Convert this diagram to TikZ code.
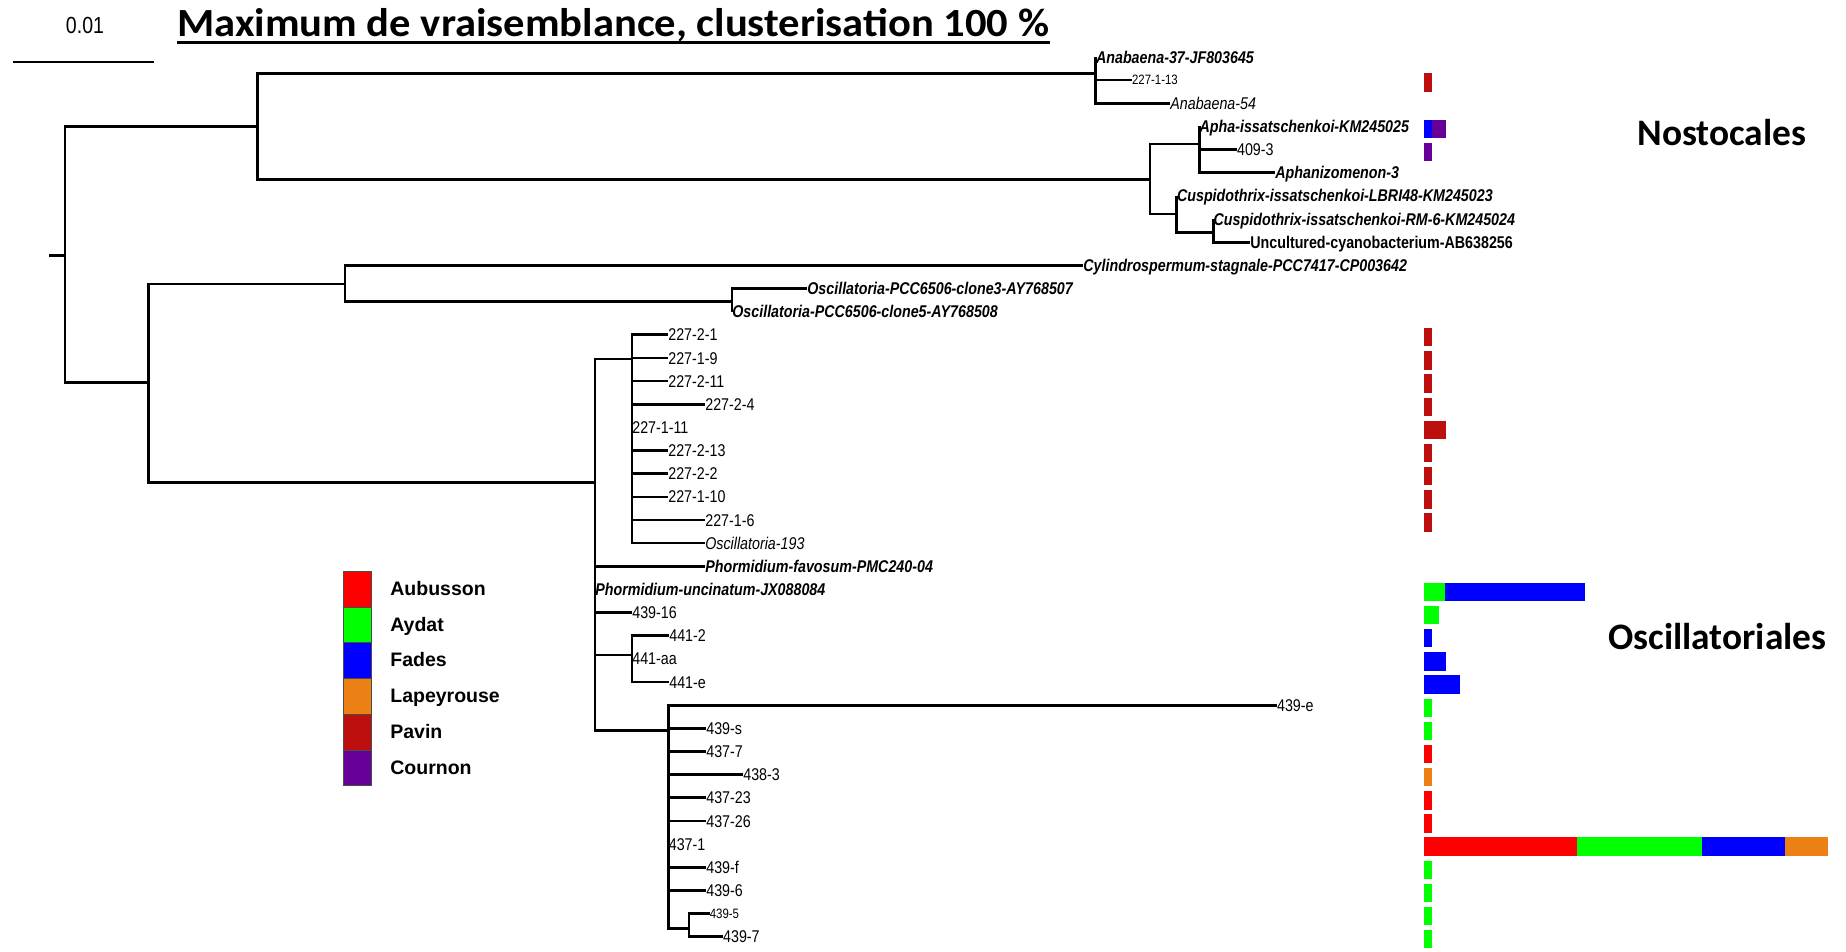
\documentclass[tikz,border=0pt]{standalone}
\usepackage{fontspec}
\usepackage{tikz}
\setmainfont{Liberation Sans}
\newfontfamily\narrowfont[FakeStretch=0.84]{Liberation Sans}
\newfontfamily\carlitofont{Carlito}
\newfontfamily\titlefont[FakeStretch=1.065]{Carlito}
\pgfdeclarelayer{edgelayer}
\pgfdeclarelayer{nodelayer}
\pgfsetlayers{edgelayer,nodelayer,main}
\tikzstyle{none}=[inner sep=0pt]
\tikzstyle{leaf}=[inner sep=0pt, anchor=west, text height=6.9pt, text depth=0pt, font=\narrowfont\fontsize{9.67}{11}\selectfont]
\tikzstyle{small leaf}=[leaf, text height=5.5pt, font=\narrowfont\fontsize{7.74}{9}\selectfont]
\tikzstyle{italic leaf}=[leaf, font=\narrowfont\fontsize{9.67}{11}\selectfont\itshape]
\tikzstyle{ref leaf}=[leaf, font=\narrowfont\fontsize{9.67}{11}\selectfont\bfseries\itshape]
\tikzstyle{bold leaf}=[leaf, font=\narrowfont\fontsize{9.67}{11}\selectfont\bfseries]
\tikzstyle{branch}=[line width=1.5pt]
\tikzstyle{legend}=[inner sep=0pt, anchor=west, text height=7.9pt, text depth=0pt, font=\bfseries\fontsize{11.1}{13}\selectfont]
\tikzstyle{group}=[inner sep=0pt, anchor=base west, font=\carlitofont\bfseries\fontsize{21.28}{24}\selectfont]
\definecolor{aubusson}{RGB}{255,0,0}
\definecolor{aydat}{RGB}{0,255,0}
\definecolor{fades}{RGB}{0,0,255}
\definecolor{lapeyrouse}{RGB}{235,128,20}
\definecolor{pavin}{RGB}{190,15,15}
\definecolor{cournon}{RGB}{102,0,153}

\begin{document}
\begin{tikzpicture}[x=0.02cm, y=-0.02cm]
	\useasboundingbox (0, 0) rectangle (1846, 952);
	\begin{pgfonlayer}{nodelayer}
		\node [style=none] (0) at (49, 255.7) {};
		\node [style=none] (1) at (65, 255.7) {};
		\node [style=none] (2) at (257.5, 126.7) {};
		\node [style=none] (3) at (1095.7, 73.3) {};
		\node [style=none] (4) at (1150, 179.3) {};
		\node [style=none] (5) at (1199.3, 144) {};
		\node [style=none] (6) at (1176.7, 214) {};
		\node [style=none] (7) at (1213.3, 232.7) {};
		\node [style=none] (8) at (148.8, 382.6) {};
		\node [style=none] (9) at (345, 284) {};
		\node [style=none] (10) at (732, 301.7) {};
		\node [style=none] (11) at (595, 482.7) {};
		\node [style=none] (12) at (632, 359) {};
		\node [style=none] (13) at (632, 655) {};
		\node [style=none] (14) at (668.5, 730.7) {};
		\node [style=none] (15) at (689, 928.3) {};
		\node [style=ref leaf] (16) at (1095.7, 57) {Anabaena-37-JF803645};
		\node [style=small leaf] (17) at (1131.7, 80.15) {227-1-13};
		\node [style=italic leaf] (18) at (1170, 103.3) {Anabaena-54};
		\node [style=ref leaf] (19) at (1199.3, 126.45) {Apha-issatschenkoi-KM245025};
		\node [style=leaf] (20) at (1236.7, 149.6) {409-3};
		\node [style=ref leaf] (21) at (1275, 172.75) {Aphanizomenon-3};
		\node [style=ref leaf] (22) at (1176.7, 195.9) {Cuspidothrix-issatschenkoi-LBRI48-KM245023};
		\node [style=ref leaf] (23) at (1213.3, 219.05) {Cuspidothrix-issatschenkoi-RM-6-KM245024};
		\node [style=bold leaf] (24) at (1250, 242.2) {Uncultured-cyanobacterium-AB638256};
		\node [style=ref leaf] (25) at (1083, 265.35) {Cylindrospermum-stagnale-PCC7417-CP003642};
		\node [style=ref leaf] (26) at (807, 288.5) {Oscillatoria-PCC6506-clone3-AY768507};
		\node [style=ref leaf] (27) at (732, 311.65) {Oscillatoria-PCC6506-clone5-AY768508};
		\node [style=leaf] (28) at (668, 334.8) {227-2-1};
		\node [style=leaf] (29) at (668, 357.95) {227-1-9};
		\node [style=leaf] (30) at (668, 381.1) {227-2-11};
		\node [style=leaf] (31) at (705, 404.25) {227-2-4};
		\node [style=leaf] (32) at (632, 427.4) {227-1-11};
		\node [style=leaf] (33) at (668, 450.55) {227-2-13};
		\node [style=leaf] (34) at (668, 473.7) {227-2-2};
		\node [style=leaf] (35) at (668, 496.85) {227-1-10};
		\node [style=leaf] (36) at (705, 520) {227-1-6};
		\node [style=italic leaf] (37) at (705, 543.15) {Oscillatoria-193};
		\node [style=ref leaf] (38) at (705, 566.3) {Phormidium-favosum-PMC240-04};
		\node [style=ref leaf] (39) at (595, 589.45) {Phormidium-uncinatum-JX088084};
		\node [style=leaf] (40) at (632, 612.6) {439-16};
		\node [style=leaf] (41) at (669, 635.75) {441-2};
		\node [style=leaf] (42) at (632, 658.9) {441-aa};
		\node [style=leaf] (43) at (669, 682.05) {441-e};
		\node [style=leaf] (44) at (1276.7, 705.2) {439-e};
		\node [style=leaf] (45) at (706, 728.35) {439-s};
		\node [style=leaf] (46) at (706, 751.5) {437-7};
		\node [style=leaf] (47) at (743, 774.65) {438-3};
		\node [style=leaf] (48) at (706, 797.8) {437-23};
		\node [style=leaf] (49) at (706, 820.95) {437-26};
		\node [style=leaf] (50) at (668.5, 844.1) {437-1};
		\node [style=leaf] (51) at (706, 867.25) {439-f};
		\node [style=leaf] (52) at (706, 890.4) {439-6};
		\node [style=small leaf] (53) at (709.5, 913.55) {439-5};
		\node [style=leaf] (54) at (722.8, 936.7) {439-7};
		\node [style=none, anchor=base west, font=\titlefont\bfseries\fontsize{22.76}{26}\selectfont] (55) at (177, 37) {Maximum de vraisemblance, clusterisation 100 \%};
		\node [style=none, anchor=base, font=\narrowfont\fontsize{13.26}{15}\selectfont] (56) at (85, 33.3) {0.01};
		\node [style=none] (57) at (12.7, 62) {};
		\node [style=none] (58) at (154, 62) {};
		\node [style=legend] (59) at (390, 589) {Aubusson};
		\node [style=legend] (60) at (390, 624.5) {Aydat};
		\node [style=legend] (61) at (390, 660) {Fades};
		\node [style=legend] (62) at (390, 696) {Lapeyrouse};
		\node [style=legend] (63) at (390, 732) {Pavin};
		\node [style=legend] (64) at (390, 767.5) {Cournon};
		\node [style=group] (65) at (1637, 146) {Nostocales};
		\node [style=group] (66) at (1608, 649) {Oscillatoriales};
	\end{pgfonlayer}
	\begin{pgfonlayer}{edgelayer}
		\draw [style=branch] (0.center) to (1.center);
		\draw [style=branch] (1.center) |- (2.center);
		\draw [style=branch] (1.center) |- (8.center);
		\draw [style=branch] (2.center) |- (3.center);
		\draw [style=branch] (2.center) |- (4.center);
		\draw [style=branch] (3.center) |- (16.west);
		\draw [style=branch] (3.center) |- (17.west);
		\draw [style=branch] (3.center) |- (18.west);
		\draw [style=branch] (4.center) |- (5.center);
		\draw [style=branch] (4.center) |- (6.center);
		\draw [style=branch] (5.center) |- (19.west);
		\draw [style=branch] (5.center) |- (20.west);
		\draw [style=branch] (5.center) |- (21.west);
		\draw [style=branch] (6.center) |- (22.west);
		\draw [style=branch] (6.center) |- (7.center);
		\draw [style=branch] (7.center) |- (23.west);
		\draw [style=branch] (7.center) |- (24.west);
		\draw [style=branch] (8.center) |- (9.center);
		\draw [style=branch] (8.center) |- (11.center);
		\draw [style=branch] (9.center) |- (25.west);
		\draw [style=branch] (9.center) |- (10.center);
		\draw [style=branch] (10.center) |- (26.west);
		\draw [style=branch] (10.center) |- (27.west);
		\draw [style=branch] (11.center) |- (12.center);
		\draw [style=branch] (11.center) |- (38.west);
		\draw [style=branch] (11.center) |- (39.west);
		\draw [style=branch] (11.center) |- (40.west);
		\draw [style=branch] (11.center) |- (13.center);
		\draw [style=branch] (11.center) |- (14.center);
		\draw [style=branch] (12.center) |- (28.west);
		\draw [style=branch] (12.center) |- (29.west);
		\draw [style=branch] (12.center) |- (30.west);
		\draw [style=branch] (12.center) |- (31.west);
		\draw [style=branch] (12.center) |- (32.west);
		\draw [style=branch] (12.center) |- (33.west);
		\draw [style=branch] (12.center) |- (34.west);
		\draw [style=branch] (12.center) |- (35.west);
		\draw [style=branch] (12.center) |- (36.west);
		\draw [style=branch] (12.center) |- (37.west);
		\draw [style=branch] (13.center) |- (41.west);
		\draw [style=branch] (13.center) |- (42.west);
		\draw [style=branch] (13.center) |- (43.west);
		\draw [style=branch] (14.center) |- (44.west);
		\draw [style=branch] (14.center) |- (45.west);
		\draw [style=branch] (14.center) |- (46.west);
		\draw [style=branch] (14.center) |- (47.west);
		\draw [style=branch] (14.center) |- (48.west);
		\draw [style=branch] (14.center) |- (49.west);
		\draw [style=branch] (14.center) |- (50.west);
		\draw [style=branch] (14.center) |- (51.west);
		\draw [style=branch] (14.center) |- (52.west);
		\draw [style=branch] (14.center) |- (15.center);
		\draw [style=branch] (15.center) |- (53.west);
		\draw [style=branch] (15.center) |- (54.west);
		\draw [line width=1.1pt] (57.center) to (58.center);
		\draw [line width=1.5pt] ([yshift=-0.11cm]55.base west) to ([yshift=-0.11cm]55.base east);
	\end{pgfonlayer}
	% lake bars
	\fill [pavin] (1424, 73.45) rectangle ++(8, 18.4);
	\fill [fades] (1424, 119.75) rectangle ++(7.5, 18.4);
	\fill [cournon] (1431.5, 119.75) rectangle ++(14.5, 18.4);
	\fill [cournon] (1424, 142.9) rectangle ++(8, 18.4);
	\fill [pavin] (1424, 328.1) rectangle ++(8, 18.4);
	\fill [pavin] (1424, 351.25) rectangle ++(8, 18.4);
	\fill [pavin] (1424, 374.4) rectangle ++(8, 18.4);
	\fill [pavin] (1424, 397.55) rectangle ++(8, 18.4);
	\fill [pavin] (1424, 420.7) rectangle ++(22, 18.4);
	\fill [pavin] (1424, 443.85) rectangle ++(8, 18.4);
	\fill [pavin] (1424, 467.0) rectangle ++(8, 18.4);
	\fill [pavin] (1424, 490.15) rectangle ++(8, 18.4);
	\fill [pavin] (1424, 513.3) rectangle ++(8, 18.4);
	\fill [aydat] (1424, 582.75) rectangle ++(21, 18.4);
	\fill [fades] (1445, 582.75) rectangle ++(140, 18.4);
	\fill [aydat] (1424, 605.9) rectangle ++(15, 18.4);
	\fill [fades] (1424, 629.05) rectangle ++(8, 18.4);
	\fill [fades] (1424, 652.2) rectangle ++(22, 18.4);
	\fill [fades] (1424, 675.35) rectangle ++(36, 18.4);
	\fill [aydat] (1424, 698.5) rectangle ++(8, 18.4);
	\fill [aydat] (1424, 721.65) rectangle ++(8, 18.4);
	\fill [aubusson] (1424, 744.8) rectangle ++(8, 18.4);
	\fill [lapeyrouse] (1424, 767.95) rectangle ++(8, 18.4);
	\fill [aubusson] (1424, 791.1) rectangle ++(8, 18.4);
	\fill [aubusson] (1424, 814.25) rectangle ++(8, 18.4);
	\fill [aubusson] (1424, 837.4) rectangle ++(153, 18.4);
	\fill [aydat] (1577, 837.4) rectangle ++(125, 18.4);
	\fill [fades] (1702, 837.4) rectangle ++(83, 18.4);
	\fill [lapeyrouse] (1785, 837.4) rectangle ++(43, 18.4);
	\fill [aydat] (1424, 860.55) rectangle ++(8, 18.4);
	\fill [aydat] (1424, 883.7) rectangle ++(8, 18.4);
	\fill [aydat] (1424, 906.85) rectangle ++(8, 18.4);
	\fill [aydat] (1424, 930.0) rectangle ++(8, 18.4);
	% legend
	\filldraw [fill=aubusson, draw=black!70, line width=0.5pt] (343, 571) rectangle (371, 607);
	\filldraw [fill=aydat, draw=black!70, line width=0.5pt] (343, 607) rectangle (371, 642);
	\filldraw [fill=fades, draw=black!70, line width=0.5pt] (343, 642) rectangle (371, 678);
	\filldraw [fill=lapeyrouse, draw=black!70, line width=0.5pt] (343, 678) rectangle (371, 714);
	\filldraw [fill=pavin, draw=black!70, line width=0.5pt] (343, 714) rectangle (371, 750);
	\filldraw [fill=cournon, draw=black!70, line width=0.5pt] (343, 750) rectangle (371, 785);
\end{tikzpicture}
\end{document}
